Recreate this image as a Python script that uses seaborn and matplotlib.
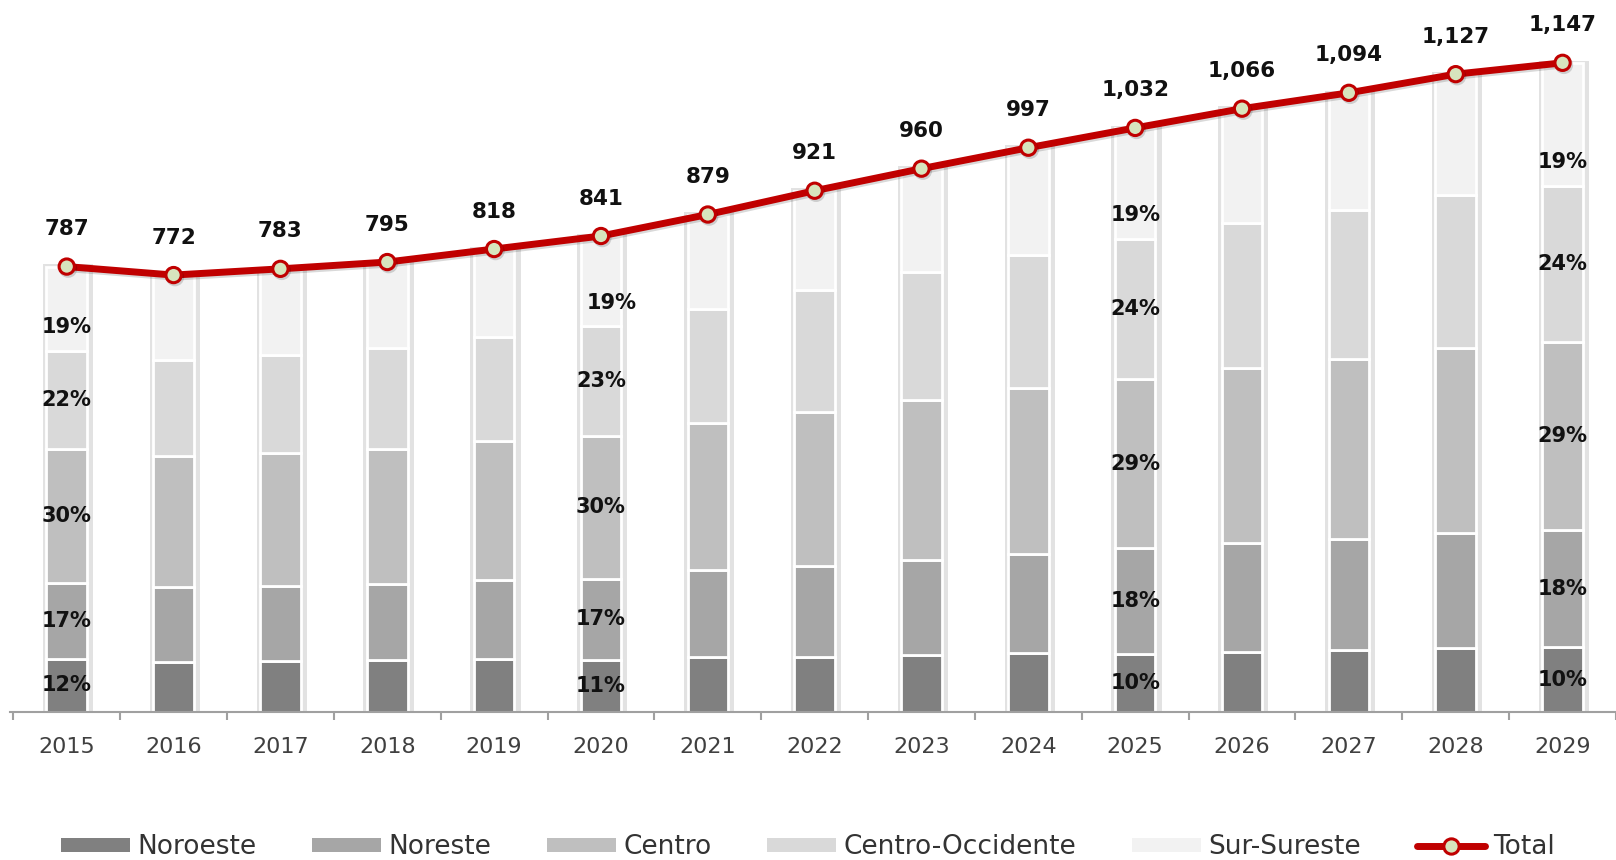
import numpy as np
import seaborn as sns
from matplotlib import pyplot as plt
from matplotlib import patheffects as pe
from matplotlib.patches import Patch
from matplotlib.lines import Line2D

years = ["2015", "2016", "2017", "2018", "2019", "2020", "2021", "2022",
         "2023", "2024", "2025", "2026", "2027", "2028", "2029"]
total = [787, 772, 783, 795, 818, 841, 879, 921, 960, 997, 1032, 1066, 1094, 1127, 1147]

# regional shares (%)
noroeste = [12, 11.5, 11.5, 11.5, 11.5, 11, 11, 10.5, 10.5, 10.5, 10, 10, 10, 10, 10]
noreste = [17, 17, 17, 17, 17, 17, 17.5, 17.5, 17.5, 17.5, 18, 18, 18, 18, 18]
centro = [30, 30, 30, 30, 30, 30, 29.5, 29.5, 29.5, 29.5, 29, 29, 29, 29, 29]
centro_occ = [22, 22, 22, 22.5, 22.5, 23, 23, 23.5, 23.5, 23.5, 24, 24, 24, 24, 24]
sur_sureste = [19, 19.5, 19.5, 19, 19, 19, 19, 19, 19, 19, 19, 19, 19, 19, 19]

regions = ["Noroeste", "Noreste", "Centro", "Centro-Occidente", "Sur-Sureste"]
shares = [noroeste, noreste, centro, centro_occ, sur_sureste]
colors = ["#808080", "#a6a6a6", "#bfbfbf", "#d9d9d9", "#f2f2f2"]

# percentage labels shown only on these bars
labeled = {0: [12, 17, 30, 22, 19], 5: [11, 17, 30, 23, 19],
           10: [10, 18, 29, 24, 19], 14: [10, 18, 29, 24, 19]}

sns.set_theme(style="white")
plt.rcParams["font.family"] = ["DejaVu Sans"]

fig = plt.figure(figsize=(16.16, 8.6), dpi=100)
ax = fig.add_axes([10 / 1616, 1 - 712 / 860, 1 - 10 / 1616, 712 / 860])

x = np.arange(len(years))
tot = np.array(total, dtype=float)

# soft shadow behind each bar
ax.bar(x + 0.012, tot + 4, width=0.47, color="#e2e2e2", linewidth=0, zorder=1)

bottom = np.zeros(len(years))
bounds = []
for name, sh, col in zip(regions, shares, colors):
    h = tot * np.array(sh) / 100.0
    ax.bar(x, h, bottom=bottom, width=0.38, color=col, edgecolor="white",
           linewidth=2, zorder=2, label=name)
    bounds.append((bottom.copy(), h))
    bottom = bottom + h

for i, labs in labeled.items():
    for k, pct in enumerate(labs):
        b, h = bounds[k]
        yy = b[i] + 42 if k == 4 else b[i] + h[i] / 2
        dx = 0.1 if (i == 5 and k == 4) else 0.0
        ax.text(i + dx, yy, f"{pct}%", ha="center", va="center", fontsize=15,
                fontweight="bold", color="#111111", zorder=5)

sns.lineplot(x=x, y=tot, ax=ax, color="#c00000", linewidth=5, marker="o",
             markersize=11, markerfacecolor="#d7e4bd", markeredgecolor="#c00000",
             markeredgewidth=2.2, zorder=4, legend=False,
             path_effects=[pe.SimpleLineShadow(offset=(1, -1.5), shadow_color="#000000",
                                               alpha=0.15), pe.Normal()])

for xi, v in zip(x, total):
    ax.annotate(f"{v:,}", (xi, v), xytext=(0, 27), textcoords="offset points",
                ha="center", va="center", fontsize=15.5, fontweight="bold",
                color="#111111", zorder=6)

ax.set_xlim(-0.531, 14.44)
ax.set_ylim(0, 1258)
ax.set_yticks([])
ax.set_xticks(x)
ax.set_xticklabels(years, fontsize=16, color="#404040")
ax.set_xticks(np.arange(-0.5, 14.6, 1), minor=True)
ax.tick_params(axis="x", which="major", length=0, pad=18)
ax.tick_params(axis="x", which="minor", length=6, width=1.5, color="#a0a0a0",
               direction="out", bottom=True)
for s in ["top", "right", "left"]:
    ax.spines[s].set_visible(False)
ax.spines["bottom"].set_color("#a0a0a0")
ax.spines["bottom"].set_linewidth(1.5)

handles = [Patch(facecolor=c, edgecolor="none", label=r) for r, c in zip(regions, colors)]
handles.append(Line2D([0], [0], color="#c00000", linewidth=5, marker="o",
                      markersize=11, markerfacecolor="#d7e4bd",
                      markeredgecolor="#c00000", markeredgewidth=2.2, label="Total"))
fig.legend(handles=handles, loc="center", bbox_to_anchor=(0.5, 1 - 847 / 860),
           ncol=6, frameon=False, fontsize=19, handlelength=2.6, handleheight=0.45,
           handletextpad=0.3, columnspacing=2.1, labelcolor="#333333")

fig.savefig("out.png", dpi=100)
